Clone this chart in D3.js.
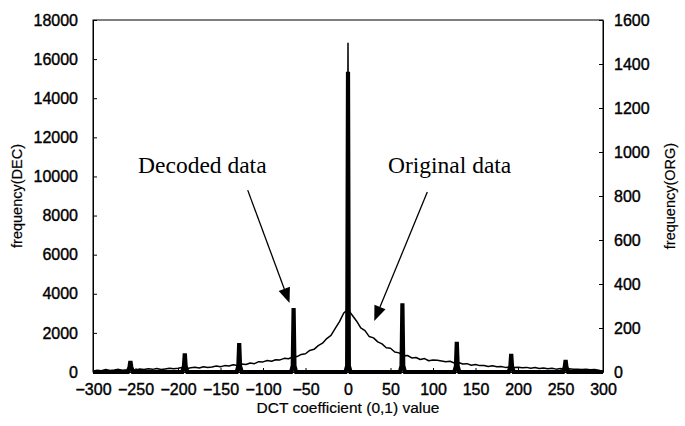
<!DOCTYPE html>
<html><head><meta charset="utf-8">
<script src="https://cdn.jsdelivr.net/npm/d3@7"></script>
<style>
html,body{margin:0;padding:0;background:#fff;}
svg{display:block;}
text{font-family:"Liberation Sans",Arial,sans-serif;fill:#000;}
</style></head>
<body><svg id="c" width="685" height="426"></svg>
<script>
// ---- data ----
const xTicks = [-300,-250,-200,-150,-100,-50,0,50,100,150,200,250,300];
const yLeftTicks = [0,2000,4000,6000,8000,10000,12000,14000,16000,18000];
const yRightTicks = [0,200,400,600,800,1000,1200,1400,1600];

// Decoded data (DEC, left axis): spikes at multiples of 64
const decPos   = [-256,-192,-128,-64,0,64,128,192,256];
const decPeak  = [560,950,1480,3270,15350,3520,1540,920,610];
const decShoulder = [260,300,300,320,320,320,300,280,260];

// Original data (ORG, right axis), sampled every 5 units (plus the spike at 0)
const orgX = [-300,-295,-290,-285,-280,-275,-270,-265,-260,-255,-250,-245,-240,-235,-230,-225,-220,-215,-210,-205,
  -200,-195,-190,-185,-180,-175,-170,-165,-160,-155,-150,-145,-140,-135,-130,-125,-120,-115,-110,-105,
  -100,-95,-90,-85,-80,-75,-70,-65,-60,-55,-50,-45,-40,-35,-30,-25,-20,-15,-10,-5,
  -1,0,1,
  5,10,15,20,25,30,35,40,45,50,55,60,65,70,75,80,85,90,95,100,
  105,110,115,120,125,130,135,140,145,150,155,160,165,170,175,180,185,190,195,200,
  205,210,215,220,225,230,235,240,245,250,255,260,265,270,275,280,285,290,295,300];
const orgY = [3,8,6,11,7,9,12,8,10,13,9,14,11,15,12,16,11,14,17,15,
  17,20,15,19,22,18,24,20,23,27,24,29,27,33,30,36,34,41,38,47,
  46,52,49,56,55,62,60,68,70,80,83,98,103,120,131,152,166,198,229,268,
  281,1494,279,
  258,232,201,188,161,155,137,128,110,108,91,87,74,75,64,66,57,61,51,55,
  53,50,47,49,41,43,36,38,31,34,29,30,25,28,24,25,21,23,20,22,
  19,21,17,20,16,18,15,17,13,16,12,15,12,13,11,12,10,11,8,2];

// annotations (data coords: x value, DEC frequency)
const annDecText = {x:-247, y:10176, label:"Decoded data"};
const annOrgText = {x:47,   y:10176, label:"Original data"};
const annDecArrow = {x1:-118, y1:9300, x2:-68.8, y2:3530};
const annOrgArrow = {x1:93.3, y1:9200, x2:30.9,  y2:2610};

// ---- layout ----
const m = {l:93, r:603, t:20, b:372};
const svg = d3.select("#c");
const x = d3.scaleLinear().domain([-300,300]).range([m.l,m.r]);
const yL = d3.scaleLinear().domain([0,18000]).range([m.b,m.t]);
const yR = d3.scaleLinear().domain([0,1600]).range([m.b,m.t]);

// frame
svg.append("rect").attr("x",m.l).attr("y",m.t).attr("width",m.r-m.l).attr("height",m.b-m.t)
  .attr("fill","none").attr("stroke","#000").attr("stroke-width",1);

// axes
const fmt = d => (d<0 ? "\u2212"+Math.abs(d) : String(d));
const gx = svg.append("g").attr("transform",`translate(0,${m.b})`)
  .call(d3.axisBottom(x).tickValues(xTicks).tickFormat(fmt).tickSizeInner(-4).tickSizeOuter(0).tickPadding(12));
const gl = svg.append("g").attr("transform",`translate(${m.l},0)`)
  .call(d3.axisLeft(yL).tickValues(yLeftTicks).tickFormat(d=>String(d)).tickSizeInner(-4).tickSizeOuter(0).tickPadding(15));
const gr = svg.append("g").attr("transform",`translate(${m.r},0)`)
  .call(d3.axisRight(yR).tickValues(yRightTicks).tickFormat(d=>String(d)).tickSizeInner(-4).tickSizeOuter(0).tickPadding(11));
[gx,gl,gr].forEach(g=>{
  g.select(".domain").attr("stroke","#000");
  g.selectAll(".tick line").attr("stroke","#000");
  g.selectAll(".tick text").style("font-size","16px").style("font-family","'Liberation Sans',Arial,sans-serif")
    .attr("fill","#000").attr("stroke","#000").attr("stroke-width",0.4);
});
gx.selectAll(".tick text").attr("dy","0.71em");

// axis titles
svg.append("text").attr("x",(m.l+m.r)/2).attr("y",413).attr("text-anchor","middle")
  .style("font-size","15.5px").attr("stroke","#000").attr("stroke-width",0.2).text("DCT coefficient (0,1) value");
svg.append("text").attr("transform",`translate(22,${(m.t+m.b)/2}) rotate(-90)`).attr("text-anchor","middle")
  .style("font-size","14.5px").attr("stroke","#000").attr("stroke-width",0.2).text("frequency(DEC)");
svg.append("text").attr("transform",`translate(675,${(m.t+m.b)/2}) rotate(-90)`).attr("text-anchor","middle")
  .style("font-size","14.5px").attr("stroke","#000").attr("stroke-width",0.2).text("frequency(ORG)");

// ORG line
const org = orgX.map((v,i)=>[v,orgY[i]]);
svg.append("path").datum(org)
  .attr("d", d3.line().x(d=>x(d[0])).y(d=>yR(d[1])))
  .attr("fill","none").attr("stroke","#000").attr("stroke-width",1.5).attr("stroke-linejoin","round");

// DEC line
const dec = [[-300,0]];
decPos.forEach((p,i)=>{
  dec.push([p-3,0],[p-1,decShoulder[i]],[p,decPeak[i]],[p+1,decShoulder[i]],[p+3,0]);
});
dec.push([300,0]);
svg.append("path").datum(dec)
  .attr("d", d3.line().x(d=>x(d[0])).y(d=>yL(d[1])))
  .attr("fill","none").attr("stroke","#000").attr("stroke-width",4.2).attr("stroke-linejoin","miter");

// annotations
[annDecText, annOrgText].forEach(a=>{
  svg.append("text").attr("x",x(a.x)).attr("y",yL(a.y))
    .style("font-size","23.5px").style("font-family","'Liberation Serif','Times New Roman',serif").text(a.label);
});
function arrow(a){
  const x1=x(a.x1), y1=yL(a.y1), x2=x(a.x2), y2=yL(a.y2);
  const ang = Math.atan2(y2-y1, x2-x1);
  const L=15, W=6;
  const bx = x2 - L*Math.cos(ang), by = y2 - L*Math.sin(ang);
  svg.append("line").attr("x1",x1).attr("y1",y1).attr("x2",bx).attr("y2",by)
    .attr("stroke","#000").attr("stroke-width",1.3);
  const px = -Math.sin(ang)*W, py = Math.cos(ang)*W;
  svg.append("path").attr("d",`M${x2},${y2}L${bx+px},${by+py}L${bx-px},${by-py}Z`).attr("fill","#000");
}
arrow(annDecArrow); arrow(annOrgArrow);
</script></body></html>
